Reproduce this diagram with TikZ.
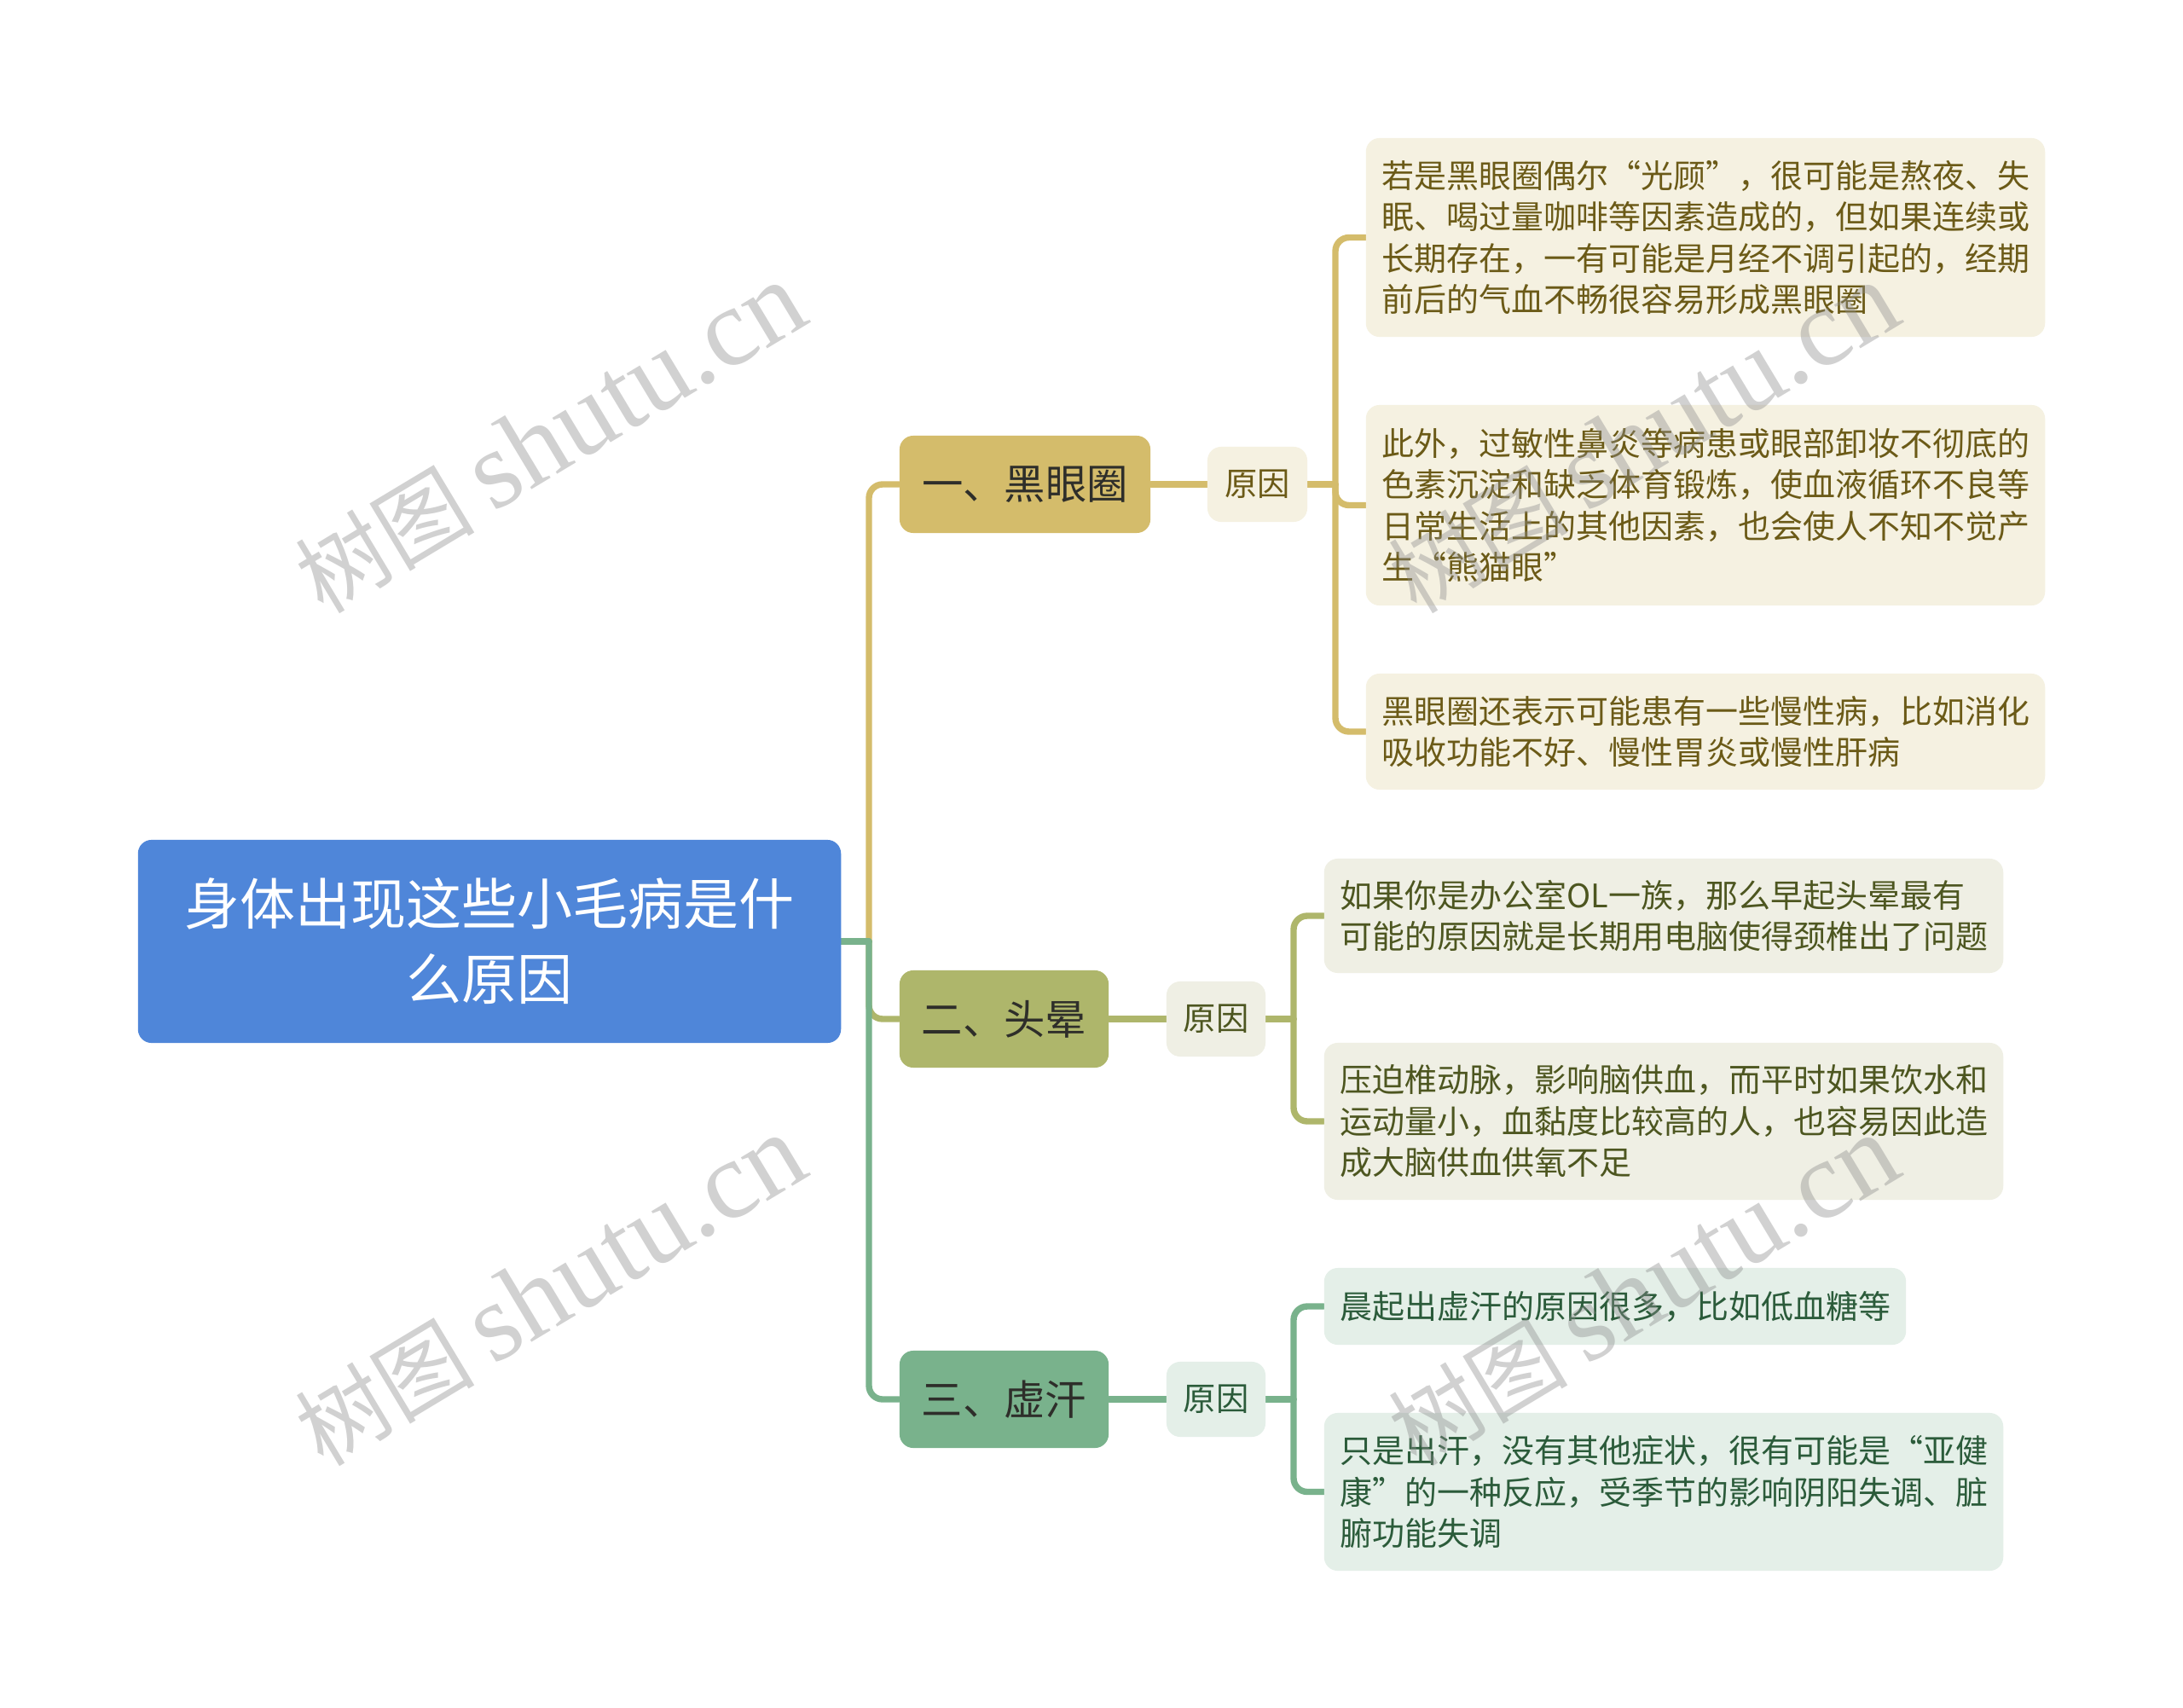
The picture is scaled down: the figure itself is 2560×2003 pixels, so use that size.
\documentclass[tikz,border=0pt]{standalone}
\usepackage{fontspec}
\setmainfont{Noto Sans CJK SC}
\newfontfamily\cjk{Noto Sans CJK SC}
\newfontfamily\wmlatin{Liberation Serif}
\usetikzlibrary{backgrounds}
\definecolor{rootblue}{HTML}{4F86D9}
\definecolor{gold}{HTML}{D4BC6B}
\definecolor{olive}{HTML}{AEB66B}
\definecolor{mgreen}{HTML}{79B28C}
\definecolor{goldbg}{HTML}{F5F1E1}
\definecolor{olivebg}{HTML}{EFEFE4}
\definecolor{greenbg}{HTML}{E4EFE8}
\definecolor{goldtxt}{HTML}{6B5A17}
\definecolor{olivetxt}{HTML}{4D5620}
\definecolor{greentxt}{HTML}{2B5B3A}
\definecolor{brtxt}{HTML}{2E2E2A}
\tikzset{
  box/.style={rounded corners=0.16cm, inner sep=0pt, align=center},
  rootbox/.style={box, fill=rootblue, text=white, minimum width=8.24cm, minimum height=2.38cm,
    font=\fontsize{18.5pt}{25pt}\selectfont},
  brbox/.style={box, text=brtxt, minimum height=1.14cm, font=\fontsize{13.75pt}{16pt}\selectfont},
  rsbox/.style={box, minimum width=1.17cm, minimum height=0.88cm, font=\fontsize{10.9pt}{13pt}\selectfont},
  leafbox/.style={rounded corners=0.16cm, inner xsep=0.19cm, inner ysep=0pt, align=left,
    font=\fontsize{10.8pt}{13.8pt}\selectfont},
  conn/.style={line width=2.1pt, line cap=round},
  wm/.style={text=black!45, text opacity=0.4, rotate=31}
}
\newcommand{\wmtext}{{\cjk\fontsize{30pt}{32pt}\selectfont 树图}\hspace{6pt}{\wmlatin\fontsize{37pt}{40pt}\selectfont shutu.cn}}
\begin{document}
\begin{tikzpicture}[x=0.01cm,y=-0.01cm]
\useasboundingbox (0,0) rectangle (2560,2003);

% root
\node[rootbox] (root) at (574,1104) {身体出现这些小毛病是什\\么原因};

% branches
\node[brbox, fill=gold, minimum width=2.94cm] (b1) at (1202,568) {一、黑眼圈};
\node[brbox, fill=olive, minimum width=2.45cm] (b2) at (1177.5,1195) {二、头晕};
\node[brbox, fill=mgreen, minimum width=2.45cm] (b3) at (1177.5,1641) {三、虚汗};

% reason nodes
\node[rsbox, fill=goldbg, text=goldtxt] (r1) at (1474.5,568) {原因};
\node[rsbox, fill=olivebg, text=olivetxt, minimum width=1.16cm] (r2) at (1426,1195) {原因};
\node[rsbox, fill=greenbg, text=greentxt, minimum width=1.16cm] (r3) at (1426,1641) {原因};

% leaves
\node[leafbox, fill=goldbg, text=goldtxt, text width=7.58cm, minimum height=2.33cm] (l1) at (2000,278.5)
  {若是黑眼圈偶尔“光顾”，很可能是熬夜、失\\眠、喝过量咖啡等因素造成的，但如果连续或\\长期存在，一有可能是月经不调引起的，经期\\前后的气血不畅很容易形成黑眼圈};
\node[leafbox, fill=goldbg, text=goldtxt, text width=7.58cm, minimum height=2.35cm] (l2) at (2000,592.5)
  {此外，过敏性鼻炎等病患或眼部卸妆不彻底的\\色素沉淀和缺乏体育锻炼，使血液循环不良等\\日常生活上的其他因素，也会使人不知不觉产\\生“熊猫眼”};
\node[leafbox, fill=goldbg, text=goldtxt, text width=7.58cm, minimum height=1.36cm] (l3) at (2000,858)
  {黑眼圈还表示可能患有一些慢性病，比如消化\\吸收功能不好、慢性胃炎或慢性肝病};
\node[leafbox, fill=olivebg, text=olivetxt, text width=7.58cm, minimum height=1.34cm] (l4) at (1951,1074)
  {如果你是办公室OL一族，那么早起头晕最有\\可能的原因就是长期用电脑使得颈椎出了问题};
\node[leafbox, fill=olivebg, text=olivetxt, text width=7.58cm, minimum height=1.84cm] (l5) at (1951,1315)
  {压迫椎动脉，影响脑供血，而平时如果饮水和\\运动量小，血黏度比较高的人，也容易因此造\\成大脑供血供氧不足};
\node[leafbox, fill=greenbg, text=greentxt, text width=6.44cm, minimum height=0.90cm] (l6) at (1894,1532)
  {晨起出虚汗的原因很多，比如低血糖等};
\node[leafbox, fill=greenbg, text=greentxt, text width=7.58cm, minimum height=1.85cm] (l7) at (1951,1749.5)
  {只是出汗，没有其他症状，很有可能是“亚健\\康”的一种反应，受季节的影响阴阳失调、脏\\腑功能失调};

% connectors
\begin{scope}[on background layer]
  \fill[white] (0,0) rectangle (2560,2003);
  \coordinate (rj) at (1019,1104);
  \draw[conn, gold] (root.east) -- (rj);
  \draw[conn, gold, rounded corners=0.16cm] (rj) |- (b1.west);
  \draw[conn, olive] (root.east) -- (rj);
  \draw[conn, olive, rounded corners=0.16cm] (rj) |- (b2.west);
  \draw[conn, mgreen] (root.east) -- (rj);
  \draw[conn, mgreen, rounded corners=0.16cm] (rj) |- (b3.west);

  \draw[conn, gold] (b1.east) -- (r1.west);
  \draw[conn, olive] (b2.east) -- (r2.west);
  \draw[conn, mgreen] (b3.east) -- (r3.west);

  \coordinate (j1) at (1566,568);
  \draw[conn, gold] (r1.east) -- (j1);
  \draw[conn, gold, rounded corners=0.16cm] (j1) |- (l1.west);
  \draw[conn, gold, rounded corners=0.16cm] (j1) |- (l2.west);
  \draw[conn, gold, rounded corners=0.16cm] (j1) |- (l3.west);

  \coordinate (j2) at (1517,1195);
  \draw[conn, olive] (r2.east) -- (j2);
  \draw[conn, olive, rounded corners=0.16cm] (j2) |- (l4.west);
  \draw[conn, olive, rounded corners=0.16cm] (j2) |- (l5.west);

  \coordinate (j3) at (1517,1641);
  \draw[conn, mgreen] (r3.east) -- (j3);
  \draw[conn, mgreen, rounded corners=0.16cm] (j3) |- (l6.west);
  \draw[conn, mgreen, rounded corners=0.16cm] (j3) |- (l7.west);
\end{scope}

% watermarks
\node[wm] (wm1) at (645,514) {\wmtext};
\node[wm] (wm2) at (1927,514) {\wmtext};
\node[wm] (wm3) at (645,1514) {\wmtext};
\node[wm] (wm4) at (1927,1514) {\wmtext};
\end{tikzpicture}
\end{document}
